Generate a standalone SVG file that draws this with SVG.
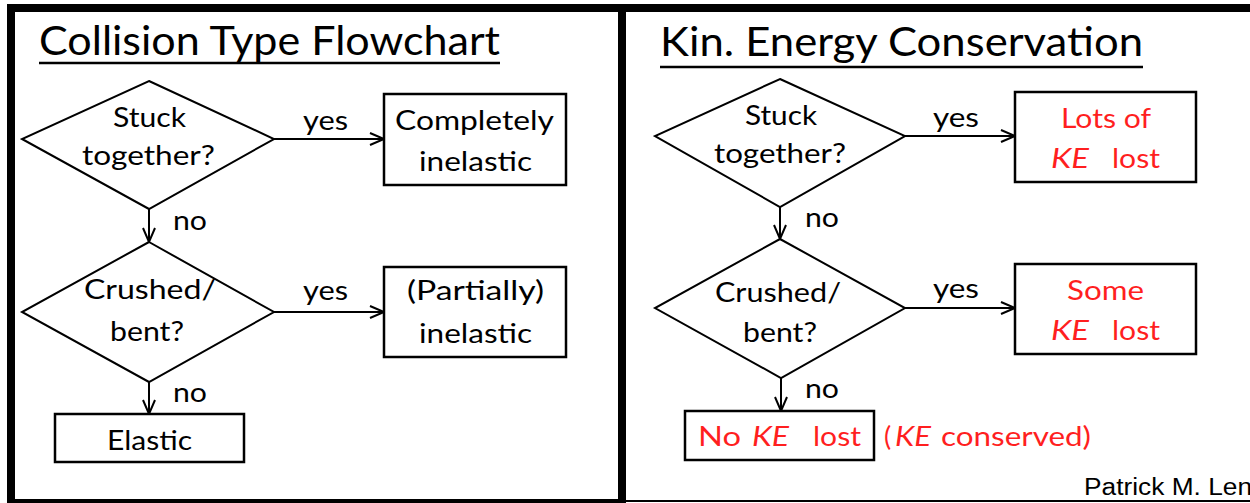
<svg xmlns="http://www.w3.org/2000/svg" width="1250" height="503" viewBox="0 0 1250 503">
  <style>
    .t { font-family: Lato, "Liberation Sans", sans-serif; font-size: 27px; fill: #000; }
    .r { fill: #ff1f1f; }
    .i { font-style: italic; }
    .title { font-family: Lato, "Liberation Sans", sans-serif; font-size: 40px; fill: #000; }
    .shape { fill: #fff; stroke: #000; stroke-width: 2; }
    .box { fill: #fff; stroke: #000; stroke-width: 2.5; }
    .edge { fill: none; stroke: #000; stroke-width: 2; }
    .credit { font-family: "Liberation Sans", Arial, sans-serif; font-size: 23px; fill: #000; }
  </style>
  <defs>
    <marker id="arr" markerUnits="userSpaceOnUse" markerWidth="18" markerHeight="16" refX="15" refY="7" orient="auto">
      <path d="M1,1 L15,7 L1,13" fill="none" stroke="#000" stroke-width="2"/>
    </marker>
  </defs>
  <rect width="1250" height="503" fill="#fff"/>

  <!-- panel frames -->
  <g id="frames">
    <rect x="11" y="8" width="611" height="495" fill="none" stroke="#000" stroke-width="8"/>
    <line x1="622" y1="8" x2="1250" y2="8" stroke="#000" stroke-width="8"/>
    <line x1="622" y1="501" x2="1250" y2="501" stroke="#000" stroke-width="2"/>
  </g>

  <!-- titles -->
  <g id="title-left">
    <text class="title" x="39" y="55" textLength="461" lengthAdjust="spacingAndGlyphs">Collision Type Flowchart</text>
    <line x1="39" y1="63" x2="500" y2="63" stroke="#000" stroke-width="2.5"/>
  </g>
  <g id="title-right">
    <text class="title" x="660" y="56" textLength="483" lengthAdjust="spacingAndGlyphs">Kin. Energy Conservation</text>
    <line x1="660" y1="67" x2="1143" y2="67" stroke="#000" stroke-width="2.5"/>
  </g>

  <!-- connectors -->
  <g id="connectors">
    <line class="edge" x1="274" y1="139" x2="384" y2="139" marker-end="url(#arr)"/>
    <line class="edge" x1="149" y1="209" x2="149" y2="242" marker-end="url(#arr)"/>
    <line class="edge" x1="274" y1="312" x2="384" y2="312" marker-end="url(#arr)"/>
    <line class="edge" x1="149" y1="382" x2="149" y2="414" marker-end="url(#arr)"/>
    <line class="edge" x1="905" y1="136" x2="1015" y2="136" marker-end="url(#arr)"/>
    <line class="edge" x1="780" y1="207" x2="780" y2="239" marker-end="url(#arr)"/>
    <line class="edge" x1="905" y1="308" x2="1015" y2="308" marker-end="url(#arr)"/>
    <line class="edge" x1="781" y1="378" x2="781" y2="411" marker-end="url(#arr)"/>
    <text class="t" x="325.5" y="130" text-anchor="middle" textLength="45" lengthAdjust="spacingAndGlyphs">yes</text>
    <text class="t" x="190" y="230" text-anchor="middle" textLength="34" lengthAdjust="spacingAndGlyphs">no</text>
    <text class="t" x="325.5" y="300" text-anchor="middle" textLength="45" lengthAdjust="spacingAndGlyphs">yes</text>
    <text class="t" x="190" y="402" text-anchor="middle" textLength="34" lengthAdjust="spacingAndGlyphs">no</text>
    <text class="t" x="956" y="127" text-anchor="middle" textLength="46" lengthAdjust="spacingAndGlyphs">yes</text>
    <text class="t" x="822" y="227" text-anchor="middle" textLength="34" lengthAdjust="spacingAndGlyphs">no</text>
    <text class="t" x="956" y="298" text-anchor="middle" textLength="46" lengthAdjust="spacingAndGlyphs">yes</text>
    <text class="t" x="822" y="398" text-anchor="middle" textLength="34" lengthAdjust="spacingAndGlyphs">no</text>
  </g>

  <!-- left flowchart nodes -->
  <g id="l-stuck">
    <polygon class="shape" points="149,81 274,139 149,209 22,139"/>
    <text class="t" x="149.5" y="127" text-anchor="middle" textLength="73" lengthAdjust="spacingAndGlyphs">Stuck</text>
    <text class="t" x="148.5" y="165" text-anchor="middle" textLength="133" lengthAdjust="spacingAndGlyphs">together?</text>
  </g>
  <g id="l-completely">
    <rect class="box" x="384" y="94" width="182" height="91"/>
    <text class="t" x="474.5" y="130" text-anchor="middle" textLength="159" lengthAdjust="spacingAndGlyphs">Completely</text>
    <text class="t" x="475.5" y="171" text-anchor="middle" textLength="113" lengthAdjust="spacingAndGlyphs">inelastic</text>
  </g>
  <g id="l-crushed">
    <polygon class="shape" points="149,242 274,312 149,382 22,312"/>
    <text class="t" x="150" y="299" text-anchor="middle" textLength="132" lengthAdjust="spacingAndGlyphs">Crushed/</text>
    <text class="t" x="147" y="341" text-anchor="middle" textLength="74" lengthAdjust="spacingAndGlyphs">bent?</text>
  </g>
  <g id="l-partially">
    <rect class="box" x="384" y="267" width="182" height="90"/>
    <text class="t" x="475.5" y="300" text-anchor="middle" textLength="137" lengthAdjust="spacingAndGlyphs">(Partially)</text>
    <text class="t" x="475.5" y="343" text-anchor="middle" textLength="113" lengthAdjust="spacingAndGlyphs">inelastic</text>
  </g>
  <g id="l-elastic">
    <rect class="box" x="55" y="414" width="189" height="48"/>
    <text class="t" x="149.5" y="450" text-anchor="middle" textLength="85" lengthAdjust="spacingAndGlyphs">Elastic</text>
  </g>

  <!-- right flowchart nodes -->
  <g id="r-stuck">
    <polygon class="shape" points="780,79 905,136 780,207 655,136"/>
    <text class="t" x="781" y="125" text-anchor="middle" textLength="72" lengthAdjust="spacingAndGlyphs">Stuck</text>
    <text class="t" x="780" y="163" text-anchor="middle" textLength="132" lengthAdjust="spacingAndGlyphs">together?</text>
  </g>
  <g id="r-lots">
    <rect class="box" x="1015" y="92" width="181" height="90"/>
    <text class="t r" x="1106" y="128" text-anchor="middle" textLength="90" lengthAdjust="spacingAndGlyphs">Lots of</text>
    <text class="t r i" x="1051" y="168" textLength="38" lengthAdjust="spacingAndGlyphs">KE</text>
    <text class="t r" x="1112" y="168" textLength="48" lengthAdjust="spacingAndGlyphs">lost</text>
  </g>
  <g id="r-crushed">
    <polygon class="shape" points="780,239 905,308 781,378 655,308"/>
    <text class="t" x="778" y="302" text-anchor="middle" textLength="126" lengthAdjust="spacingAndGlyphs">Crushed/</text>
    <text class="t" x="780" y="342" text-anchor="middle" textLength="74" lengthAdjust="spacingAndGlyphs">bent?</text>
  </g>
  <g id="r-some">
    <rect class="box" x="1015" y="264" width="181" height="90"/>
    <text class="t r" x="1105.5" y="300" text-anchor="middle" textLength="77" lengthAdjust="spacingAndGlyphs">Some</text>
    <text class="t r i" x="1051" y="340" textLength="38" lengthAdjust="spacingAndGlyphs">KE</text>
    <text class="t r" x="1112" y="340" textLength="48" lengthAdjust="spacingAndGlyphs">lost</text>
  </g>
  <g id="r-none">
    <rect class="box" x="685" y="411" width="189" height="49"/>
    <text class="t r" x="698" y="446" textLength="43" lengthAdjust="spacingAndGlyphs">No</text>
    <text class="t r i" x="752" y="446" textLength="37" lengthAdjust="spacingAndGlyphs">KE</text>
    <text class="t r" x="813" y="446" textLength="48" lengthAdjust="spacingAndGlyphs">lost</text>
  </g>
  <g id="r-note">
    <text class="t r" x="884" y="446">(</text>
    <text class="t r i" x="895" y="446" textLength="36" lengthAdjust="spacingAndGlyphs">KE</text>
    <text class="t r" x="941" y="446" textLength="150" lengthAdjust="spacingAndGlyphs">conserved)</text>
  </g>

  <g id="credit">
    <text class="credit" x="1084" y="495" textLength="168" lengthAdjust="spacingAndGlyphs">Patrick M. Len</text>
  </g>
</svg>
